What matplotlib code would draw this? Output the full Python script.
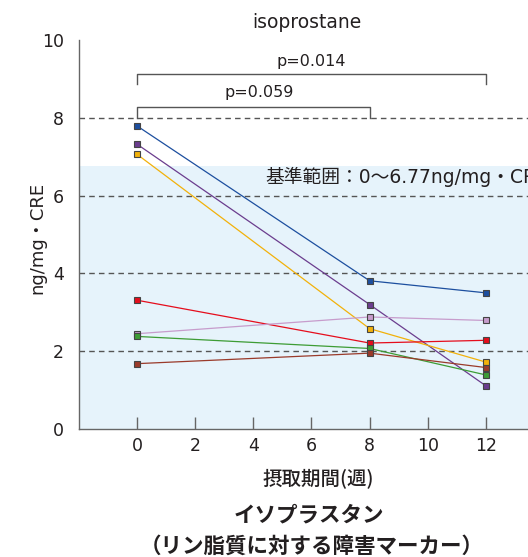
import numpy as np
import matplotlib
matplotlib.use("Agg")
import matplotlib.pyplot as plt

plt.rcParams["font.family"] = ["DejaVu Sans", "Noto Sans CJK JP"]

# data
weeks = [0, 8, 12]
subjects = {
    "blue": [7.79, 3.81, 3.50],
    "purple": [7.32, 3.20, 1.11],
    "yellow": [7.06, 2.58, 1.72],
    "red": [3.31, 2.21, 2.28],
    "lilac": [2.45, 2.88, 2.79],
    "green": [2.38, 2.07, 1.39],
    "brown": [1.68, 1.95, 1.58],
}
colors = {
    "blue": "#1d4f9f",
    "purple": "#6b3d8e",
    "yellow": "#f2b10a",
    "red": "#e50d1c",
    "lilac": "#c79ccc",
    "green": "#3d9c35",
    "brown": "#9a3a2a",
}
ref_upper = 6.77
gridlines = [2, 4, 6, 8]
xticks = [0, 2, 4, 6, 8, 10, 12]
yticks = [0, 2, 4, 6, 8, 10]

txt = "#231f20"
W, H = 528, 557
fig = plt.figure(figsize=(W / 100, H / 100), dpi=100)
ax = fig.add_axes([79 / W, (H - 429) / H, (W - 79) / W, 389 / H])

ax.axhspan(0, ref_upper, color="#e6f3fb", lw=0, zorder=0)
for g in gridlines:
    ax.axhline(g, color="#555555", lw=1.0, ls=(0, (4, 3)), zorder=1)

for key, vals in subjects.items():
    c = colors[key]
    ax.plot(weeks, vals, color=c, lw=0.9, zorder=3)
    ax.plot(weeks, vals, ls="none", marker="s", ms=5, mfc=c, mec="#444444",
            mew=0.8, zorder=4)

# reference range note runs off the right edge, as in the source figure
ax.text(4.4, 6.49, "基準範囲：0〜6.77ng/mg・CRE", fontsize=13.5, color=txt,
        ha="left", va="center", zorder=5)

# significance brackets
bk = dict(color="#555555", lw=1.0, clip_on=False, zorder=5)
ax.plot([0, 0, 12, 12], [8.87, 9.13, 9.13, 8.87], **bk)
ax.plot([0, 0, 8, 8], [8.0, 8.28, 8.28, 8.0], **bk)
ax.text(6.0, 9.46, "p=0.014", fontsize=11.5, color=txt, ha="center", va="center")
ax.text(4.2, 8.66, "p=0.059", fontsize=11.5, color=txt, ha="center", va="center")

ax.set_xlim(-2, 13.45)
ax.set_ylim(0, 10)
ax.set_xticks(xticks)
ax.set_yticks(yticks)
ax.tick_params(axis="x", direction="in", length=9, width=1, color="#666666",
               labelsize=12.5, labelcolor=txt, pad=6)
ax.tick_params(axis="y", length=0, labelsize=12.5, labelcolor=txt, pad=11)
for s in ["top", "right"]:
    ax.spines[s].set_visible(False)
for s in ["left", "bottom"]:
    ax.spines[s].set_color("#666666")
    ax.spines[s].set_linewidth(1.0)

fig.text(307 / W, 1 - 22 / H, "isoprostane", fontsize=13.5, color=txt,
         ha="center", va="center")
fig.text(37 / W, 1 - 238 / H, "ng/mg・CRE", fontsize=13, color=txt,
         ha="center", va="center", rotation=90)
fig.text(318 / W, 1 - 478 / H, "摂取期間(週)", fontsize=14, color=txt,
         family="Noto Sans CJK JP", weight="medium", ha="center", va="center")
fig.text(309 / W, 1 - 515 / H, "イソプラスタン", fontsize=15.5, color=txt,
         family="Noto Sans CJK JP", weight="bold", ha="center", va="center")
fig.text(312 / W, 1 - 546 / H, "（リン脂質に対する障害マーカー）", fontsize=15.5,
         color=txt, family="Noto Sans CJK JP", weight="bold",
         ha="center", va="center")

plt.savefig("out.png", dpi=100)
plt.close()
